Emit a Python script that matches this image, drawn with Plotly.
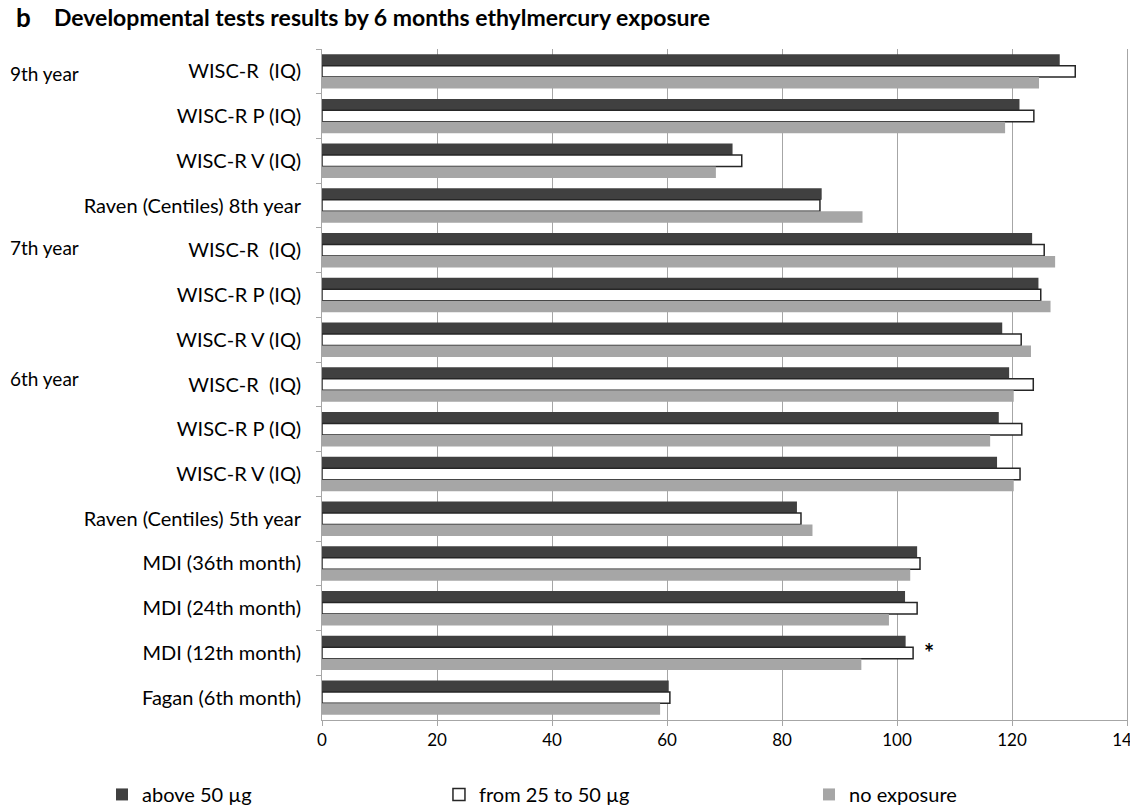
import plotly.graph_objects as go

ZW = "\u200b"
NB = "\u00a0"

categories = [
    "WISC-R" + NB + " (IQ)",
    "WISC-R P (IQ)",
    "WISC-R V (IQ)",
    "Raven (Centiles) 8th year",
    "WISC-R" + NB + " (IQ)" + ZW,
    "WISC-R P (IQ)" + ZW,
    "WISC-R V (IQ)" + ZW,
    "WISC-R" + NB + " (IQ)" + ZW + ZW,
    "WISC-R P (IQ)" + ZW + ZW,
    "WISC-R V (IQ)" + ZW + ZW,
    "Raven (Centiles) 5th year",
    "MDI (36th month)",
    "MDI (24th month)",
    "MDI (12th month)",
    "Fagan (6th month)",
]

above_50 = [128.3, 121.3, 71.4, 86.9, 123.5, 124.6, 118.3, 119.5, 117.7, 117.4, 82.6, 103.5, 101.4, 101.5, 60.3]
from_25_50 = [131.0, 123.8, 73.0, 86.6, 125.6, 125.0, 121.6, 123.7, 121.7, 121.4, 83.3, 104.0, 103.5, 102.8, 60.5]
no_exposure = [124.7, 118.8, 68.5, 94.0, 127.5, 126.7, 123.3, 120.3, 116.2, 120.3, 85.3, 102.3, 98.6, 93.8, 58.8]

series_names = ["above 50 µg", "from 25 to 50 µg", "no exposure"]
year_labels = [("9th year", 0, -2), ("7th year", 4, 3), ("6th year", 7, 6)]
x_ticks = [0, 20, 40, 60, 80, 100, 120, 140]

FONT = "Lato"

fig = go.Figure()
fig.add_trace(go.Bar(y=categories, x=above_50, orientation="h", name=series_names[0],
                     legend="legend",
                     marker=dict(color="#404040", line=dict(width=0))))
fig.add_trace(go.Bar(y=categories, x=from_25_50, orientation="h", name=series_names[1],
                     legend="legend2",
                     marker=dict(color="#ffffff", line=dict(color="#262626", width=1.5))))
fig.add_trace(go.Bar(y=categories, x=no_exposure, orientation="h", name=series_names[2],
                     legend="legend3",
                     marker=dict(color="#a6a6a6", line=dict(width=0))))

leg_common = dict(orientation="h", xanchor="left", y=-0.1400, yanchor="bottom",
                  font=dict(size=20, family=FONT), bgcolor="rgba(0,0,0,0)")

fig.update_layout(
    width=1130, height=801,
    margin=dict(l=314, r=11, t=41, b=89, autoexpand=False),
    paper_bgcolor="white", plot_bgcolor="white",
    barmode="group", bargap=0.23, bargroupgap=0,
    font=dict(family=FONT, size=16, color="#000000"),
    showlegend=True,
    legend=dict(x=-0.2733, **leg_common),
    legend2=dict(x=0.1453, **leg_common),
    legend3=dict(x=0.605, **leg_common),
)

fig.update_xaxes(range=[0, 140], tickvals=x_ticks, showgrid=True, gridcolor="#a6a6a6",
                 gridwidth=1, showline=True, linecolor="#a6a6a6", linewidth=1,
                 ticks="outside", ticklen=5, tickcolor="#a6a6a6",
                 ticklabeloverflow="allow",
                 tickfont=dict(size=17, family=FONT), zeroline=False)
fig.update_yaxes(autorange="reversed", showline=True, linecolor="#a6a6a6", linewidth=1,
                 mirror=True,
                 ticks="outside", ticklen=5, tickcolor="#a6a6a6", tickson="boundaries",
                 tickfont=dict(size=20, family=FONT), ticklabelstandoff=16,
                 showgrid=False)

# Panel letter and title
fig.add_annotation(text="<b>b</b>", xref="paper", yref="paper", x=-0.3826, y=1.0,
                   xanchor="left", yanchor="middle", yshift=32, showarrow=False,
                   font=dict(size=26, family=FONT))
fig.add_annotation(text="<b>Developmental tests results by 6 months ethylmercury exposure</b>",
                   xref="paper", yref="paper", x=-0.3354, y=1.0, xanchor="left", yanchor="middle",
                   yshift=32, showarrow=False, font=dict(size=23, family=FONT))

for label, idx, shift in year_labels:
    fig.add_annotation(text=label, xref="paper", yref="y", x=-0.39, y=categories[idx],
                       xanchor="left", yanchor="middle", showarrow=False,
                       yshift=shift, font=dict(size=19, family=FONT))

fig.add_annotation(text="<b>*</b>", xref="x", yref="y", x=105.5, y=categories[13],
                   xanchor="center", yanchor="middle", showarrow=False, yshift=0,
                   font=dict(size=24, family=FONT))

fig.write_html("out.html")
